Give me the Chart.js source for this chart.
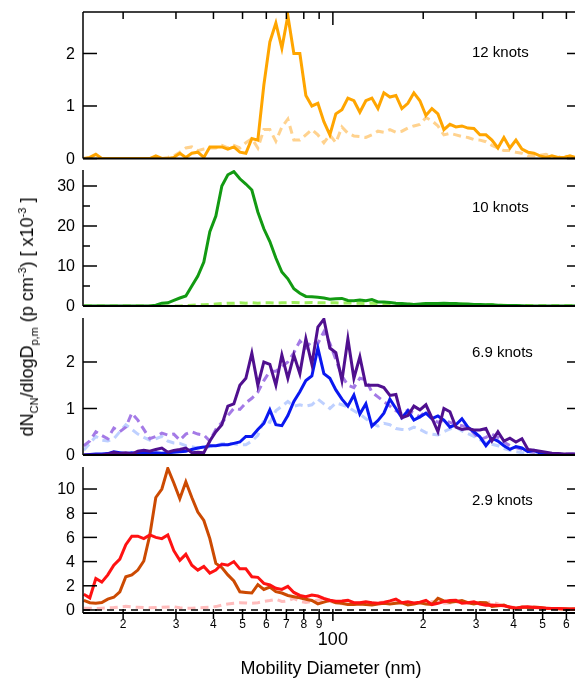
<!DOCTYPE html>
<html lang="en">
<head>
  <meta charset="UTF-8" />
  <title>Size distributions by wind speed</title>
  <script src="https://cdn.jsdelivr.net/npm/chart.js"></script>
  <style>
    body { margin: 0; background: #fff; font-family: "Liberation Sans", Arial, sans-serif; }
    #wrap { position: relative; width: 575px; height: 681px; overflow: hidden; }
    #wrap canvas { position: absolute; left: 0; }
    #ytitle {
      position: absolute; left: 27px; top: 317px;
      transform: translate(-50%, -50%) rotate(-90deg);
      font-size: 18px; line-height: 1; white-space: nowrap; color: #000;
    }
    #ytitle sub, #ytitle sup { font-size: 11px; line-height: 0; }
  </style>
</head>
<body>
<div id="wrap">
  <canvas id="p12" width="575" height="170" style="top:0px"></canvas>
  <canvas id="p10" width="575" height="160" style="top:160px"></canvas>
  <canvas id="p69" width="575" height="160" style="top:310px"></canvas>
  <canvas id="p29" width="575" height="221" style="top:460px"></canvas>
  <div id="ytitle">dN<sub>CN</sub>/dlogD<sub>p,m</sub> (p cm<sup>-3</sup>) [ x10<sup>-3</sup> ]</div>
</div>

<script>
// mobility diameter bins (nm)
const diam = [
  14.79,15.49,16.22,16.98,17.78,18.62,19.50,20.42,21.38,22.39,
  23.44,24.55,25.70,26.92,28.18,29.51,30.90,32.36,33.88,35.48,
  37.15,38.90,40.74,42.66,44.67,46.77,48.98,51.29,53.70,56.23,
  58.88,61.66,64.57,67.61,70.79,74.13,77.62,81.28,85.11,89.13,
  93.33,97.72,102.3,107.2,112.2,117.5,123.0,128.8,134.9,141.3,
  147.9,154.9,162.2,169.8,177.8,186.2,195.0,204.2,213.8,223.9,
  234.4,245.5,257.0,269.2,281.8,295.1,309.0,323.6,338.8,354.8,
  371.5,389.0,407.4,426.6,446.7,467.7,489.8,512.9,537.0,562.3,
  588.8,616.6,645.7
];

// 12 knots
const d12Solid = [
  0,0.02,0.08,0,0,0,0,0,0,0,
  0,0,0.05,0,0,0.02,0.1,0.02,0.1,0.12,
  0.02,0.22,0.22,0.22,0.18,0.22,0.12,0.1,0.38,0.35,
  1.4,2.22,2.58,2.1,2.72,2.0,2.0,1.2,1.0,1.05,
  0.7,0.45,0.85,0.93,1.15,1.1,0.88,1.1,1.15,0.95,
  1.25,1.17,1.2,0.95,1.05,1.25,1.1,0.82,0.95,0.85,
  0.55,0.65,0.6,0.62,0.58,0.57,0.45,0.45,0.35,0.2,
  0.4,0.2,0.35,0.18,0.12,0.1,0.05,0.02,0.05,0.02,
  0.02,0.05,0.02
];
const d12Dash = [
  0,0,0,0,0,0,0,0,0,0,
  0,0,0.03,0,0.02,0.05,0.12,0.2,0.22,0.15,
  0.18,0.2,0.2,0.25,0.2,0.25,0.2,0.3,0.38,0.2,
  0.55,0.55,0.33,0.6,0.75,0.35,0.35,0.45,0.55,0.45,
  0.3,0.45,0.3,0.6,0.48,0.43,0.42,0.4,0.45,0.52,
  0.5,0.55,0.5,0.52,0.58,0.62,0.65,0.78,0.72,0.62,
  0.45,0.48,0.45,0.42,0.4,0.36,0.35,0.32,0.25,0.2,
  0.15,0.15,0.12,0.1,0.05,0.05,0.06,0.08,0.03,0.02,
  0.05,0.03,0.02
];

// 10 knots
const d10Solid = [
  0,0,0,0,0,0,0,0,0,0,
  0,0,0.2,0.7,0.8,1.4,2.0,2.5,5.0,7.5,
  11,18.6,22.5,30,32.8,33.6,31.8,30.5,29,23.5,
  19.3,16.1,12,8.5,6.8,4.3,3.2,2.4,2.3,2.2,
  2.0,1.7,1.8,1.9,1.4,1.3,1.5,1.3,1.6,1.0,
  1.0,0.9,0.7,0.6,0.5,0.4,0.5,0.6,0.6,0.6,
  0.7,0.6,0.6,0.5,0.5,0.4,0.4,0.3,0.3,0.2,
  0.1,0.1,0.1,0.05,0,0,0,0,0,0,
  0,0,0
];
const d10Dash = [
  0,0,0,0,0,0,0,0,0,0,
  0,0,0,0,0,0,0,0.1,0.2,0.3,
  0.3,0.4,0.5,0.6,0.7,0.7,0.8,0.7,0.8,0.7,
  0.8,0.8,0.7,0.8,0.8,0.9,0.8,0.8,0.9,0.8,
  0.8,0.8,0.8,0.7,0.8,0.7,0.7,0.6,0.7,0.6,
  0.6,0.5,0.5,0.4,0.5,0.4,0.4,0.5,0.5,0.6,
  0.6,0.5,0.5,0.5,0.4,0.4,0.3,0.3,0.3,0.2,
  0.2,0.1,0.1,0.1,0.1,0.05,0.05,0.05,0.05,0.05,
  0.05,0.05,0.05
];

// 6.9 knots
const d69Purple = [
  0,0,0,0,0.02,0.06,0.03,0.05,0.02,0.08,
  0.1,0.08,0.12,0.15,0.06,0.1,0.12,0.15,0.05,0.06,
  0.05,0.3,0.5,0.65,1.05,1.1,1.5,1.65,2.19,1.5,
  2.0,1.95,1.5,2.15,1.65,2.15,1.75,2.5,1.95,2.75,
  2.92,2.3,2.2,1.6,2.5,1.65,2.11,1.5,1.5,1.5,
  1.45,1.28,1.3,0.8,0.85,1.05,0.97,1.08,0.8,0.5,
  1.0,0.93,0.6,0.55,0.57,0.54,0.54,0.57,0.3,0.5,
  0.3,0.36,0.28,0.35,0.12,0.1,0.08,0.06,0.04,0.03,
  0.02,0.02,0.02
];
const d69Blue = [
  0,0.01,0.02,0.02,0.03,0.07,0.05,0.03,0.05,0.03,
  0.06,0.04,0.05,0.04,0.05,0.06,0.07,0.08,0.12,0.15,
  0.17,0.2,0.2,0.22,0.22,0.25,0.28,0.4,0.4,0.55,
  0.68,0.97,0.65,0.63,0.85,1.15,1.36,1.6,1.7,2.3,
  1.75,1.65,1.4,1.2,1.05,1.29,0.88,1.1,0.62,0.74,
  0.9,1.2,1.0,0.8,0.95,0.75,0.82,0.9,0.78,0.84,
  0.75,0.6,0.65,0.78,0.6,0.5,0.39,0.2,0.36,0.3,
  0.2,0.12,0.18,0.15,0.07,0.1,0.04,0.03,0.02,0.01,
  0.01,0.01,0.01
];
const d69PurpleDash = [
  0.2,0.3,0.5,0.42,0.35,0.58,0.5,0.6,0.9,0.75,
  0.55,0.35,0.4,0.47,0.43,0.45,0.32,0.45,0.5,0.45,
  0.43,0.3,0.55,0.7,0.85,1.0,0.98,1.12,1.22,1.35,
  1.6,1.8,1.8,1.9,2.0,2.2,2.45,2.3,2.45,2.4,
  2.65,2.4,2.05,1.7,1.5,1.45,1.65,1.62,1.35,1.25,
  1.15,1.05,0.95,0.88,0.97,0.9,0.82,0.95,0.78,0.7,
  0.75,0.7,0.66,0.63,0.6,0.47,0.33,0.38,0.45,0.38,
  0.28,0.2,0.16,0.12,0.08,0.06,0.05,0.04,0.03,0.03,
  0.02,0.02,0.02
];
const d69BlueDash = [
  0.1,0.25,0.4,0.32,0.3,0.35,0.5,0.65,0.55,0.45,
  0.38,0.32,0.35,0.4,0.3,0.26,0.25,0.2,0.18,0.15,
  0.14,0.18,0.2,0.24,0.25,0.24,0.22,0.22,0.3,0.42,
  0.75,0.7,0.95,1.05,1.15,1.05,1.08,1.05,1.08,1.2,
  1.1,1.0,1.12,1.08,1.03,0.95,0.88,0.78,0.68,0.62,
  0.68,0.65,0.57,0.55,0.54,0.6,0.55,0.48,0.45,0.43,
  0.5,0.56,0.6,0.52,0.46,0.4,0.33,0.26,0.23,0.2,
  0.14,0.1,0.07,0.05,0.04,0.03,0.02,0.02,0.02,0.02,
  0.02,0.02,0.02
];

// 2.9 knots
const d29Red = [
  1.3,1.0,2.6,2.3,2.9,3.7,4.2,5.4,6.1,6.1,
  5.9,6.2,6.0,5.9,6.2,4.9,4.1,4.6,3.7,3.3,
  3.6,3.05,3.3,3.8,3.7,4.0,3.4,3.4,2.75,2.7,
  2.2,2.07,1.8,1.7,1.95,1.45,1.2,1.1,1.24,1.15,
  0.95,0.8,0.72,0.75,0.8,0.6,0.6,0.68,0.6,0.55,
  0.62,0.75,0.9,0.6,0.68,0.58,0.65,0.8,0.45,0.55,
  0.7,0.78,0.8,0.55,0.6,0.68,0.5,0.4,0.42,0.38,
  0.34,0.25,0.15,0.22,0.27,0.2,0.18,0.15,0.13,0.12,
  0.1,0.08,0.08
];
const d29Brown = [
  0.8,0.6,0.55,0.62,0.9,1.05,1.5,2.75,2.9,3.3,
  4.05,6.2,9.3,10.0,11.7,10.5,9.2,10.6,9.3,8.1,
  7.4,5.9,3.85,3.5,2.9,2.4,1.5,1.45,1.4,2.1,
  1.7,1.9,1.52,1.4,1.2,1.1,1.0,0.88,0.78,0.5,
  0.65,0.8,0.6,0.55,0.45,0.45,0.5,0.45,0.42,0.5,
  0.55,0.5,0.55,0.6,0.42,0.5,0.6,0.5,0.45,0.96,
  0.75,0.65,0.7,0.78,0.6,0.5,0.62,0.6,0.3,0.35,
  0.4,0.2,0.15,0.25,0.2,0.22,0.2,0.15,0.12,0.1,
  0.08,0.08,0.08
];
const d29PinkDash = [
  0.15,0.15,0.12,0.15,0.18,0.2,0.25,0.3,0.25,0.22,
  0.2,0.18,0.2,0.22,0.25,0.27,0.18,0.14,0.15,0.18,
  0.2,0.22,0.28,0.4,0.5,0.55,0.6,0.58,0.55,0.6,
  0.7,0.78,0.88,0.7,0.75,0.96,0.7,0.62,0.7,0.83,
  0.75,0.7,0.6,0.52,0.5,0.55,0.6,0.6,0.58,0.6,
  0.65,0.75,0.83,0.7,0.6,0.55,0.6,0.65,0.69,0.62,
  0.55,0.58,0.62,0.69,0.62,0.58,0.55,0.6,0.69,0.5,
  0.32,0.25,0.2,0.22,0.26,0.28,0.2,0.14,0.12,0.1,
  0.1,0.08,0.08
];

// axis ticks
const xTicks = [20,30,40,50,60,70,80,90,100,200,300,400,500,600];
const xTickLabels = ['2','3','4','5','6','7','8','9','100','2','3','4','5','6'];
const yTicks12 = [0,1,2];
const yTicks10 = [0,10,20,30];
const yMinor10 = [5,15,25];
const yTicks69 = [0,1,2];
const yTicks29 = [0,2,4,6,8,10];
const panelLabels = ['12 knots','10 knots','6.9 knots','2.9 knots'];

const FONT = '"Liberation Sans", Arial, sans-serif';

function line(ctx, x1, y1, x2, y2) {
  ctx.beginPath(); ctx.moveTo(x1, y1); ctx.lineTo(x2, y2); ctx.stroke();
}

// axes are drawn by hand so the ticks can point inward like the original
const framePlugin = {
  id: 'frame',
  afterDatasetsDraw(chart, args, o) {
    const { ctx, chartArea: a, scales: { x, y } } = chart;
    const y0 = y.getPixelForValue(0);
    ctx.save();
    ctx.strokeStyle = '#000';
    ctx.fillStyle = '#000';
    ctx.lineWidth = 1.5;

    // left axis + zero line
    line(ctx, a.left, a.top, a.left, o.bottomAxis ? a.bottom : y0);
    if (o.bottomAxis) {
      ctx.setLineDash([7, 5]);
      line(ctx, a.left, y0, a.right, y0);
      ctx.setLineDash([]);
      ctx.lineWidth = 2;
      line(ctx, a.left, a.bottom, a.right, a.bottom);
      ctx.lineWidth = 1.5;
    } else {
      ctx.lineWidth = 2;
      line(ctx, a.left, y0, a.right, y0);
      ctx.lineWidth = 1.5;
    }

    // y ticks
    ctx.font = '16px ' + FONT;
    ctx.textAlign = 'right';
    ctx.textBaseline = 'middle';
    o.majors.forEach(v => {
      const py = y.getPixelForValue(v);
      line(ctx, a.left, py, a.left + 14, py);
      line(ctx, a.right - 8, py, a.right, py);
      ctx.fillText(String(v), a.left - 8, py + 1);
    });
    (o.minors || []).forEach(v => {
      const py = y.getPixelForValue(v);
      line(ctx, a.left, py, a.left + 7, py);
      line(ctx, a.right - 4, py, a.right, py);
    });

    // top frame with x ticks
    if (o.topFrame) {
      line(ctx, a.left, a.top, a.right, a.top);
      xTicks.forEach(v => {
        const px = x.getPixelForValue(v);
        line(ctx, px, a.top, px, a.top + (v === 100 ? 13 : 7));
      });
    }

    // bottom x axis
    if (o.bottomAxis) {
      ctx.textAlign = 'center';
      xTicks.forEach((v, i) => {
        const px = x.getPixelForValue(v);
        line(ctx, px, a.bottom - 4, px, a.bottom + (v === 100 ? 8 : 6));
        if (v === 100) {
          ctx.font = '18px ' + FONT;
          ctx.fillText(xTickLabels[i], px, a.bottom + 27);
        } else {
          ctx.font = '12px ' + FONT;
          ctx.fillText(xTickLabels[i], px, a.bottom + 12);
        }
      });
      ctx.font = '18px ' + FONT;
      ctx.fillText('Mobility Diameter (nm)', 331, a.bottom + 56);
    }

    // panel label
    ctx.font = '15px ' + FONT;
    ctx.textAlign = 'left';
    ctx.fillText(o.label, 472, a.top + o.labelDy);
    ctx.restore();
  }
};

function series(vals, color, dashed) {
  return {
    data: diam.map((d, i) => ({ x: d, y: vals[i] })),
    borderColor: color,
    borderWidth: 3,
    borderDash: dashed ? [8, 5] : [],
    pointRadius: 0,
    tension: 0,
    fill: false
  };
}

function makePanel(id, datasets, yMin, yMax, pad, frame) {
  new Chart(document.getElementById(id), {
    type: 'line',
    data: { datasets: datasets },
    options: {
      responsive: false,
      animation: false,
      events: [],
      layout: { padding: { left: 83, right: 0, top: pad[0], bottom: pad[1] } },
      plugins: { legend: { display: false }, tooltip: { enabled: false }, frame: frame },
      scales: {
        x: { type: 'logarithmic', min: 14.7, max: 641, display: false },
        y: { type: 'linear', min: yMin, max: yMax, display: false }
      }
    },
    plugins: [framePlugin]
  });
}

makePanel('p12', [
  series(d12Solid, '#ffa500', false),
  series(d12Dash, '#ffd28e', true)
], 0, 2.79, [12, 11.5], { majors: yTicks12, topFrame: true, label: panelLabels[0], labelDy: 41 });

makePanel('p10', [
  series(d10Solid, '#129a12', false),
  series(d10Dash, '#9cee5a', true)
], 0, 34, [10, 14], { majors: yTicks10, minors: yMinor10, label: panelLabels[1], labelDy: 38 });

makePanel('p69', [
  series(d69Purple, '#50108f', false),
  series(d69Blue, '#0a18f0', false),
  series(d69PurpleDash, '#a47ae6', true),
  series(d69BlueDash, '#bed0ff', true)
], 0, 2.946, [8, 15], { majors: yTicks69, label: panelLabels[2], labelDy: 35 });

makePanel('p29', [
  series(d29Red, '#ff1212', false),
  series(d29Brown, '#cc4a02', false),
  series(d29PinkDash, '#ffbcbc', true)
], -0.25, 11.82, [7, 68], { majors: yTicks29, bottomAxis: true, label: panelLabels[3], labelDy: 34 });
</script>
</body>
</html>
